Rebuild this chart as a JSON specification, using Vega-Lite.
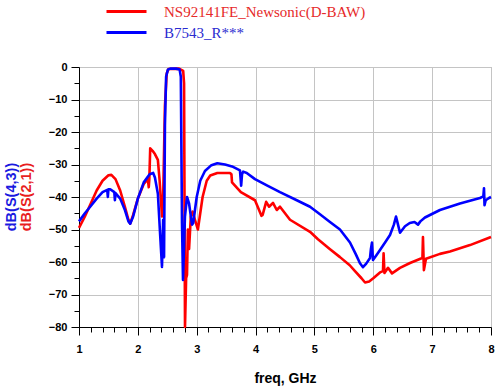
{
  "$schema": "https://vega.github.io/schema/vega-lite/v6.json",
  "width": 412,
  "height": 260,
  "autosize": {"type": "none"},
  "padding": {"left": 79, "top": 67, "right": 12, "bottom": 64},
  "background": "white",
  "config": {"view": {"stroke": "#a8a8a8", "strokeWidth": 1}, "font": "Liberation Sans"},
  "title": {"text": "dB(S(4,3))", "subtitle": "dB(S(2,1))", "orient": "left", "anchor": "middle", "color": "#1a1ae0", "subtitleColor": "#e81e1e", "font": "Liberation Sans", "fontSize": 14.5, "fontWeight": "bold", "subtitleFont": "Liberation Sans", "subtitleFontSize": 14.5, "subtitleFontWeight": "bold", "subtitlePadding": 0, "offset": 14},
  "datasets": {
    "red": [
      {"f": 1.0, "db": -49.5}, {"f": 1.1, "db": -46}, {"f": 1.2, "db": -42}, {"f": 1.3, "db": -38}, {"f": 1.4, "db": -35}, {"f": 1.5, "db": -33.3}, {"f": 1.55, "db": -33.2}, {"f": 1.62, "db": -34.5}, {"f": 1.7, "db": -38}, {"f": 1.78, "db": -43}, {"f": 1.84, "db": -47}, {"f": 1.87, "db": -48.2}, {"f": 1.92, "db": -45.5}, {"f": 2.0, "db": -40.5}, {"f": 2.1, "db": -36}, {"f": 2.17, "db": -34.5}, {"f": 2.185, "db": -37}, {"f": 2.195, "db": -34.5}, {"f": 2.21, "db": -25}, {"f": 2.25, "db": -25.8}, {"f": 2.29, "db": -26.8}, {"f": 2.34, "db": -28.6}, {"f": 2.37, "db": -35}, {"f": 2.41, "db": -46}, {"f": 2.43, "db": -40}, {"f": 2.46, "db": -12}, {"f": 2.49, "db": -2}, {"f": 2.52, "db": -0.6}, {"f": 2.7, "db": -0.5}, {"f": 2.77, "db": -1.2}, {"f": 2.785, "db": -5}, {"f": 2.801, "db": -80}, {"f": 2.82, "db": -65}, {"f": 2.835, "db": -64}, {"f": 2.85, "db": -50}, {"f": 2.87, "db": -56}, {"f": 2.9, "db": -46}, {"f": 2.93, "db": -44.5}, {"f": 2.97, "db": -47}, {"f": 3.02, "db": -50}, {"f": 3.06, "db": -45}, {"f": 3.1, "db": -40}, {"f": 3.17, "db": -35}, {"f": 3.23, "db": -33.4}, {"f": 3.35, "db": -32.6}, {"f": 3.565, "db": -32.6}, {"f": 3.59, "db": -33}, {"f": 3.6, "db": -35.5}, {"f": 3.75, "db": -38.5}, {"f": 3.99, "db": -41}, {"f": 4.1, "db": -45.8}, {"f": 4.12, "db": -45.5}, {"f": 4.18, "db": -41.5}, {"f": 4.23, "db": -43}, {"f": 4.296, "db": -41.8}, {"f": 4.36, "db": -44}, {"f": 4.415, "db": -43}, {"f": 4.585, "db": -47}, {"f": 4.925, "db": -50.7}, {"f": 5.06, "db": -53}, {"f": 5.26, "db": -56}, {"f": 5.434, "db": -58.5}, {"f": 5.6, "db": -61}, {"f": 5.689, "db": -62.8}, {"f": 5.8, "db": -65}, {"f": 5.86, "db": -66.3}, {"f": 5.93, "db": -66}, {"f": 6.0, "db": -65}, {"f": 6.114, "db": -63.2}, {"f": 6.165, "db": -62.8}, {"f": 6.175, "db": -57.3}, {"f": 6.19, "db": -63.4}, {"f": 6.25, "db": -61.8}, {"f": 6.318, "db": -63.5}, {"f": 6.454, "db": -61.8}, {"f": 6.624, "db": -60.3}, {"f": 6.8, "db": -59}, {"f": 6.835, "db": -58.8}, {"f": 6.844, "db": -52.3}, {"f": 6.86, "db": -62.5}, {"f": 6.895, "db": -59}, {"f": 7.133, "db": -57.5}, {"f": 7.303, "db": -56.8}, {"f": 7.643, "db": -54.8}, {"f": 8.0, "db": -52.3}
    ],
    "blue": [
      {"f": 1.0, "db": -47.5}, {"f": 1.1, "db": -45}, {"f": 1.19, "db": -43}, {"f": 1.3, "db": -40.5}, {"f": 1.4, "db": -38.5}, {"f": 1.48, "db": -37.8}, {"f": 1.49, "db": -40}, {"f": 1.5, "db": -37.6}, {"f": 1.53, "db": -37.6}, {"f": 1.6, "db": -38.5}, {"f": 1.61, "db": -41}, {"f": 1.62, "db": -38.8}, {"f": 1.7, "db": -40.5}, {"f": 1.78, "db": -44}, {"f": 1.84, "db": -47.5}, {"f": 1.87, "db": -48.2}, {"f": 1.92, "db": -46}, {"f": 2.0, "db": -40.5}, {"f": 2.1, "db": -35.5}, {"f": 2.2, "db": -33}, {"f": 2.26, "db": -32.6}, {"f": 2.29, "db": -34}, {"f": 2.34, "db": -39}, {"f": 2.38, "db": -52}, {"f": 2.41, "db": -61.5}, {"f": 2.43, "db": -47}, {"f": 2.445, "db": -58.5}, {"f": 2.46, "db": -18}, {"f": 2.48, "db": -3}, {"f": 2.51, "db": -0.8}, {"f": 2.55, "db": -0.5}, {"f": 2.65, "db": -0.5}, {"f": 2.71, "db": -0.8}, {"f": 2.73, "db": -3}, {"f": 2.75, "db": -48}, {"f": 2.767, "db": -65.5}, {"f": 2.8, "db": -46}, {"f": 2.835, "db": -40}, {"f": 2.87, "db": -42}, {"f": 2.92, "db": -48.5}, {"f": 2.94, "db": -48}, {"f": 3.0, "db": -40}, {"f": 3.06, "db": -35}, {"f": 3.14, "db": -32}, {"f": 3.25, "db": -30.2}, {"f": 3.35, "db": -29.6}, {"f": 3.48, "db": -30}, {"f": 3.6, "db": -30.6}, {"f": 3.735, "db": -31.8}, {"f": 3.755, "db": -36.5}, {"f": 3.77, "db": -33}, {"f": 3.79, "db": -32.2}, {"f": 3.85, "db": -32.6}, {"f": 3.99, "db": -34.5}, {"f": 4.2, "db": -36.5}, {"f": 4.415, "db": -38.5}, {"f": 4.7, "db": -41}, {"f": 4.925, "db": -43}, {"f": 5.094, "db": -45.3}, {"f": 5.264, "db": -47.7}, {"f": 5.434, "db": -50}, {"f": 5.604, "db": -54}, {"f": 5.7, "db": -57.5}, {"f": 5.774, "db": -60.4}, {"f": 5.825, "db": -61.6}, {"f": 5.88, "db": -60.5}, {"f": 5.944, "db": -58.8}, {"f": 5.96, "db": -56}, {"f": 5.978, "db": -54}, {"f": 5.995, "db": -59.4}, {"f": 6.05, "db": -58}, {"f": 6.114, "db": -56.3}, {"f": 6.2, "db": -54}, {"f": 6.284, "db": -51.7}, {"f": 6.35, "db": -48.5}, {"f": 6.386, "db": -46}, {"f": 6.42, "db": -48.5}, {"f": 6.454, "db": -51}, {"f": 6.539, "db": -49}, {"f": 6.62, "db": -48}, {"f": 6.7, "db": -47.7}, {"f": 6.76, "db": -48.5}, {"f": 6.8, "db": -47.5}, {"f": 6.878, "db": -46.3}, {"f": 7.133, "db": -44}, {"f": 7.473, "db": -42}, {"f": 7.813, "db": -40.3}, {"f": 7.87, "db": -39.8}, {"f": 7.881, "db": -37.3}, {"f": 7.89, "db": -42.5}, {"f": 7.91, "db": -41}, {"f": 7.966, "db": -40.3}, {"f": 8.0, "db": -40}
    ]
  },
  "encoding": {
    "x": {
      "field": "f", "type": "quantitative", "title": "freq, GHz",
      "scale": {"domain": [1, 8], "nice": false, "zero": false},
      "axis": {
        "values": [1, 1.2, 1.4, 1.6, 1.8, 2, 2.2, 2.4, 2.6, 2.8, 3, 3.2, 3.4, 3.6, 3.8, 4, 4.2, 4.4, 4.6, 4.8, 5, 5.2, 5.4, 5.6, 5.8, 6, 6.2, 6.4, 6.6, 6.8, 7, 7.2, 7.4, 7.6, 7.8, 8],
        "labelExpr": "abs(datum.value - round(datum.value)) < 0.01 ? '' + round(datum.value) : ''",
        "tickSize": {"condition": {"test": "abs(datum.value - round(datum.value)) < 0.01", "value": 8}, "value": 5},
        "gridOpacity": {"condition": {"test": "abs(datum.value - round(datum.value)) < 0.01", "value": 1}, "value": 0},
        "grid": true, "gridColor": "#c4c4c4", "gridWidth": 1,
        "domainColor": "#000000", "tickColor": "#000000", "labelColor": "#000000",
        "labelFont": "Liberation Sans", "labelFontSize": 11, "labelFontWeight": "bold", "labelPadding": 8, "labelFlush": false,
        "titleFont": "Liberation Sans", "titleFontSize": 14, "titleFontWeight": "bold", "titleColor": "#000000", "titlePadding": 17
      }
    },
    "y": {
      "field": "db", "type": "quantitative", "title": null,
      "scale": {"domain": [-80, 0], "nice": false},
      "axis": {
        "values": [-80, -75, -70, -65, -60, -55, -50, -45, -40, -35, -30, -25, -20, -15, -10, -5, 0],
        "labelExpr": "datum.value % 10 == 0 ? datum.label : ''",
        "tickSize": {"condition": {"test": "datum.value % 10 == 0", "value": 8}, "value": 5},
        "gridOpacity": {"condition": {"test": "datum.value % 10 == 0", "value": 1}, "value": 0},
        "grid": true, "gridColor": "#c4c4c4", "gridWidth": 1,
        "domainColor": "#000000", "tickColor": "#000000", "labelColor": "#000000",
        "labelFont": "Liberation Sans", "labelFontSize": 11, "labelFontWeight": "bold", "labelPadding": 4, "labelFlush": false
      }
    },
    "color": {
      "field": "s", "type": "nominal",
      "scale": {"domain": ["NS92141FE_Newsonic(D-BAW)", "B7543_R***"], "range": ["#ff0000", "#0000ff"]},
      "legend": {
        "orient": "none", "legendX": 26, "legendY": -66, "title": null,
        "symbolType": "stroke", "symbolSize": 1600, "symbolStrokeWidth": 3,
        "labelFont": "Liberation Serif", "labelFontSize": 15, "labelOffset": 16, "rowPadding": 0, "clipHeight": 21,
        "labelLimit": 400,
        "labelColor": {"expr": "datum.label == 'B7543_R***' ? '#2a2ad0' : '#e62a2a'"}
      }
    }
  },
  "layer": [
    {
      "data": {"name": "red"},
      "transform": [{"calculate": "'NS92141FE_Newsonic(D-BAW)'", "as": "s"}],
      "mark": {"type": "line", "strokeWidth": 2.6, "strokeJoin": "round"}
    },
    {
      "data": {"name": "blue"},
      "transform": [{"calculate": "'B7543_R***'", "as": "s"}],
      "mark": {"type": "line", "strokeWidth": 2.6, "strokeJoin": "round"}
    }
  ]
}
